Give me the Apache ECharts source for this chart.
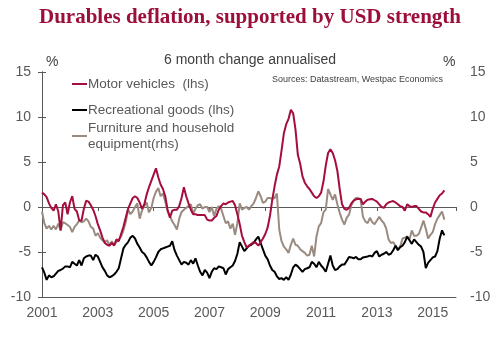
<!DOCTYPE html>
<html>
<head>
<meta charset="utf-8">
<script src="https://cdn.jsdelivr.net/npm/echarts@6/dist/echarts.min.js"></script>
<style>
html,body{margin:0;padding:0;background:#fff;}
#chart{width:500px;height:338px;}
</style>
</head>
<body>
<div id="chart"></div>
<script>
// Monthly observations, Jan 2001 onward (index 0 = Jan 2001)
var startYear = 2001;
var tickYears = [2001, 2003, 2005, 2007, 2009, 2011, 2013, 2015];
var yTicks = [-10, -5, 0, 5, 10, 15];

var motorVehicles = [
  1.6,1.4,1.1,0.4,-0.1,-0.4,0.3,-0.5,-2.6,0.2,0.5,-0.8,
  0.5,1.2,-0.2,-0.5,-1.5,-1.5,-0.2,0.7,0.6,0.2,-0.3,-1.0,
  -1.9,-2.6,-3.4,-4.0,-4.2,-4.3,-4.0,-4.3,-3.6,-3.8,-3.0,-2.2,
  -1.2,-0.2,0.4,1.0,1.2,1.0,0.5,-0.2,0.3,1.4,2.2,2.9,
  3.6,4.3,3.3,2.5,2.0,1.2,-0.3,-1.2,-0.4,-0.3,-0.3,0.1,
  1.0,2.2,1.2,0.4,-0.3,-0.8,-0.8,-0.9,-0.9,-0.9,-0.9,-1.4,
  -1.5,-1.5,-1.2,-1.0,-0.3,0.1,0.4,0.3,0.5,0.6,0.66,0.2,
  -0.8,-1.9,-3.2,-3.9,-4.5,-4.3,-4.1,-3.9,-4.0,-4.3,-3.9,-3.5,
  -3.0,-2.3,-1.0,0.8,2.3,3.6,4.5,6.3,8.2,9.2,9.8,10.8,
  10.4,8.6,5.8,4.8,3.4,2.7,2.3,2.0,1.6,1.2,1.0,1.2,
  1.6,2.8,4.6,6.0,6.4,6.0,5.2,4.0,2.0,0.3,-0.2,-0.3,
  -0.1,0.4,0.7,0.85,0.9,0.9,0.3,0.6,0.8,0.85,0.9,0.75,
  0.6,0.3,0.0,-0.1,0.3,0.5,0.6,0.66,0.5,0.3,0.1,0.0,
  -0.4,0.3,0.1,0.0,0.1,0.1,-0.2,-0.5,-0.6,-0.6,-0.8,-1.1,
  -0.2,0.5,0.9,1.3,1.5,1.85
];

var recreationalGoods = [
  -6.7,-7.3,-8.1,-7.6,-7.8,-7.7,-7.4,-7.1,-7.0,-6.85,-6.6,-6.6,
  -6.7,-6.1,-6.3,-6.5,-5.9,-6.5,-5.7,-5.5,-5.4,-5.4,-5.9,-5.3,
  -5.5,-6.1,-6.7,-7.1,-7.6,-7.8,-7.7,-7.5,-7.2,-6.8,-5.7,-4.6,
  -4.2,-3.9,-3.4,-3.2,-3.5,-4.1,-4.5,-5.0,-5.2,-5.6,-6.1,-6.5,
  -6.1,-5.6,-5.0,-4.7,-4.6,-4.5,-4.4,-4.3,-3.8,-4.8,-5.4,-5.9,
  -6.4,-6.1,-6.2,-6.4,-5.9,-6.3,-5.7,-6.5,-7.2,-7.6,-7.0,-7.3,
  -7.9,-7.2,-6.8,-6.9,-6.6,-6.7,-6.8,-7.5,-6.9,-6.7,-6.5,-6.0,
  -5.2,-3.9,-4.4,-4.9,-4.6,-4.3,-4.2,-4.0,-3.6,-3.3,-4.0,-4.7,
  -5.4,-5.8,-6.5,-7.0,-7.2,-7.7,-8.0,-7.9,-8.1,-7.8,-8.1,-7.5,
  -6.7,-6.4,-6.6,-6.9,-7.2,-6.9,-6.8,-6.7,-6.1,-6.3,-6.7,-6.1,
  -6.5,-6.8,-7.2,-6.3,-5.4,-6.5,-7.0,-6.9,-6.6,-6.4,-6.4,-6.0,
  -5.55,-5.6,-5.7,-5.55,-5.8,-5.8,-5.6,-5.55,-5.5,-5.4,-5.5,-5.1,
  -4.9,-5.5,-5.3,-5.2,-5.0,-5.3,-5.2,-4.8,-4.3,-4.8,-4.45,-4.3,
  -3.9,-3.3,-3.7,-4.1,-3.6,-3.9,-4.2,-4.4,-5.0,-6.8,-6.2,-5.9,
  -5.6,-5.5,-4.9,-3.5,-2.6,-3.15
];

var furnitureHousehold = [
  -0.5,-1.8,-2.4,-2.1,-2.5,-2.1,-2.5,-1.85,-2.6,-1.7,-1.8,-2.0,
  -2.2,-2.8,-2.2,-1.9,-1.5,-1.7,-1.6,-1.3,-1.6,-2.2,-2.4,-3.2,
  -2.9,-3.4,-3.7,-3.9,-3.7,-4.25,-3.8,-4.2,-3.9,-3.6,-3.3,-2.6,
  -1.7,-0.25,-0.8,-0.5,0.0,0.4,-1.3,-0.4,0.1,0.5,-0.6,-0.1,
  1.0,1.7,2.1,1.2,1.5,0.6,-0.5,-1.0,-1.6,-2.0,-2.5,-1.3,
  -0.55,-0.3,-0.1,0.1,0.3,-0.75,-0.2,0.2,0.3,-0.2,0.0,0.0,
  -0.55,0.0,-1.0,-0.2,0.1,-0.2,-1.0,-1.8,-1.6,-2.4,-1.85,-3.1,
  -1.8,0.4,-0.3,-0.1,0.0,-0.3,0.1,0.4,1.0,1.75,1.2,0.45,
  0.6,1.0,1.0,0.9,1.0,1.5,-2.5,-3.8,-4.4,-4.7,-5.1,-4.2,
  -3.5,-4.2,-4.3,-4.7,-4.9,-5.1,-5.4,-5.3,-4.3,-5.5,-3.3,-2.15,
  -1.8,-0.6,-0.3,2.0,1.4,0.8,1.4,0.3,-0.65,-1.4,-1.95,-1.2,
  -0.85,0.2,0.7,1.0,1.0,0.8,-1.1,-1.6,-1.8,-1.2,-1.7,-1.9,
  -1.5,-1.1,-1.5,-1.8,-2.4,-3.6,-4.0,-3.9,-4.3,-4.7,-4.4,-3.5,
  -3.4,-3.25,-3.6,-2.6,-3.2,-3.2,-3.0,-2.3,-1.5,-2.4,-3.5,-3.1,
  -2.8,-1.9,-1.3,-0.9,-0.5,-1.4
];

var names = {
  motor: 'Motor vehicles  (lhs)',
  rec: 'Recreational goods (lhs)',
  furn: 'Furniture and household\nequipment(rhs)'
};

function toPoints(arr) {
  return arr.map(function (v, i) { return [i, v]; });
}

var axisColor = '#595959';
var textColor = '#595959';
var font = 'Liberation Sans, Arial, sans-serif';

var chart = echarts.init(document.getElementById('chart'), null, {renderer: 'canvas'});

var option = {
  backgroundColor: '#ffffff',
  animation: false,
  title: {
    text: 'Durables deflation, supported by USD strength',
    left: 'center',
    top: 7,
    padding: 0,
    textStyle: {
      fontFamily: 'Liberation Serif, Times New Roman, serif',
      fontWeight: 'bold',
      fontSize: 21,
      color: '#9b0f3a'
    }
  },
  graphic: [
    {type: 'text', left: 'center', top: 53, style: {text: '6 month change annualised', font: '14px ' + font, fill: '#404040'}},
    {type: 'text', left: 46, top: 55, style: {text: '%', font: '14px ' + font, fill: '#404040'}},
    {type: 'text', left: 443, top: 55, style: {text: '%', font: '14px ' + font, fill: '#404040'}},
    {type: 'text', right: 57, top: 75, style: {text: 'Sources: Datastream, Westpac Economics', font: '9px ' + font, fill: '#404040'}}
  ],
  legend: [
    {
      data: [names.motor, names.rec],
      orient: 'vertical',
      left: 72,
      top: 76,
      padding: 0,
      itemGap: 10,
      itemWidth: 15,
      itemHeight: 2,
      icon: 'rect',
      selectedMode: false,
      textStyle: {fontFamily: font, fontSize: 13.5, color: textColor, lineHeight: 16, padding: [0, 0, 0, -4]}
    },
    {
      data: [{name: names.furn}],
      orient: 'vertical',
      left: 72,
      top: 112,
      padding: 0,
      itemWidth: 15,
      itemHeight: 2,
      icon: 'rect',
      selectedMode: false,
      textStyle: {fontFamily: font, fontSize: 13.5, color: textColor, lineHeight: 16, padding: [16, 0, 0, -4]}
    }
  ],
  grid: {left: 42, right: 44, top: 72, bottom: 41, containLabel: false},
  xAxis: [
    {
      type: 'value',
      min: 0,
      max: 178,
      interval: 24,
      position: 'bottom',
      axisLine: {show: true, onZero: false, lineStyle: {color: axisColor, width: 1}},
      axisTick: {show: false},
      splitLine: {show: false},
      axisLabel: {
        show: true,
        margin: 9,
        fontFamily: font,
        fontSize: 14,
        color: textColor,
        showMaxLabel: false,
        formatter: function (v) {
          var y = startYear + v / 12;
          return tickYears.indexOf(y) >= 0 ? String(y) : '';
        }
      }
    },
    {
      type: 'value',
      min: 0,
      max: 178,
      interval: 24,
      position: 'top',
      axisLine: {show: true, onZero: true, onZeroAxisIndex: 0, lineStyle: {color: axisColor, width: 1}},
      axisTick: {show: true, inside: true, length: 4, lineStyle: {color: axisColor}},
      splitLine: {show: false},
      axisLabel: {show: false}
    }
  ],
  yAxis: [
    {
      type: 'value',
      min: -10,
      max: 15,
      interval: 5,
      position: 'left',
      axisLine: {show: true, lineStyle: {color: axisColor, width: 1}},
      axisTick: {show: true, length: 4, lineStyle: {color: axisColor}},
      splitLine: {show: false},
      axisLabel: {margin: 11, fontFamily: font, fontSize: 14, color: textColor}
    },
    {
      type: 'value',
      min: -10,
      max: 15,
      interval: 5,
      position: 'right',
      axisLine: {show: true, lineStyle: {color: axisColor, width: 1}},
      axisTick: {show: true, length: 4, lineStyle: {color: axisColor}},
      splitLine: {show: false},
      axisLabel: {margin: 14, fontFamily: font, fontSize: 14, color: textColor}
    }
  ],
  series: [
    {
      name: names.furn,
      type: 'line',
      xAxisIndex: 0,
      yAxisIndex: 1,
      data: toPoints(furnitureHousehold),
      showSymbol: false,
      symbol: 'none',
      lineStyle: {color: '#9a8b80', width: 2},
      itemStyle: {color: '#9a8b80'}
    },
    {
      name: names.rec,
      type: 'line',
      xAxisIndex: 0,
      yAxisIndex: 0,
      data: toPoints(recreationalGoods),
      showSymbol: false,
      symbol: 'none',
      lineStyle: {color: '#000000', width: 2},
      itemStyle: {color: '#000000'}
    },
    {
      name: names.motor,
      type: 'line',
      xAxisIndex: 0,
      yAxisIndex: 0,
      data: toPoints(motorVehicles),
      showSymbol: false,
      symbol: 'none',
      lineStyle: {color: '#a50d3d', width: 2},
      itemStyle: {color: '#a50d3d'}
    }
  ]
};

chart.setOption(option);
</script>
</body>
</html>
